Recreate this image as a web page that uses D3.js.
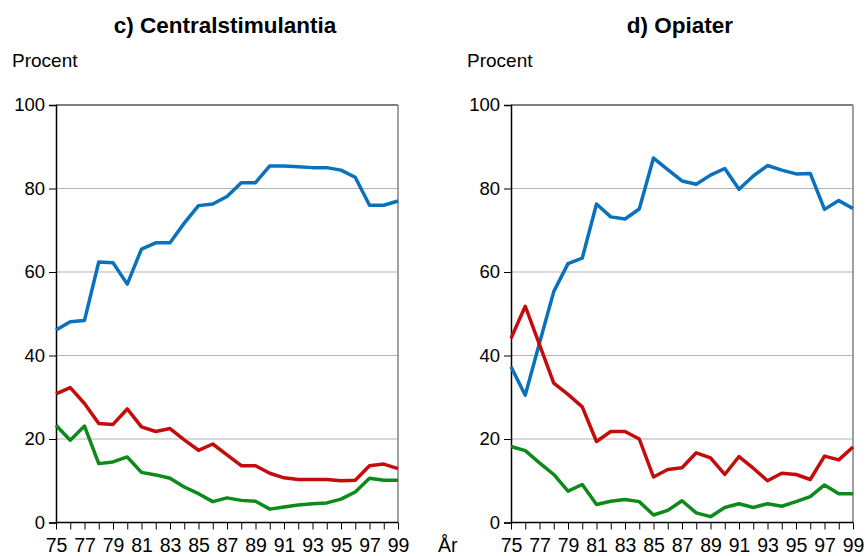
<!DOCTYPE html>
<html>
<head>
<meta charset="utf-8">
<script src="https://cdn.jsdelivr.net/npm/d3@7"></script>
<style>
  body { margin: 0; background: #fff; }
  svg { font-family: "Liberation Sans", Arial, sans-serif; }
</style>
</head>
<body>
<div id="chart"></div>
<script>
// years 1975-1999
var years = d3.range(1975, 2000);
var yTicks = [0, 20, 40, 60, 80, 100];

// c) Centralstimulantia
var cBlue  = [46.1, 48.1, 48.4, 62.4, 62.2, 57.1, 65.5, 67.0, 67.0, 71.7, 75.9, 76.3, 78.1, 81.4, 81.4, 85.4, 85.4, 85.2, 85.0, 85.0, 84.4, 82.7, 76.0, 76.0, 77.0];
var cRed   = [30.8, 32.3, 28.5, 23.7, 23.5, 27.2, 22.9, 21.8, 22.5, 19.8, 17.3, 18.8, 16.2, 13.6, 13.6, 11.8, 10.7, 10.3, 10.3, 10.3, 10.0, 10.1, 13.6, 14.0, 12.9];
var cGreen = [23.3, 19.7, 23.1, 14.1, 14.5, 15.7, 12.0, 11.4, 10.6, 8.5, 6.9, 5.0, 5.9, 5.3, 5.1, 3.2, 3.7, 4.2, 4.5, 4.7, 5.6, 7.3, 10.6, 10.1, 10.1];

// d) Opiater
var dBlue  = [37.3, 30.5, 43.0, 55.3, 62.0, 63.3, 76.3, 73.2, 72.7, 75.1, 87.3, 84.5, 81.8, 81.0, 83.2, 84.8, 79.8, 83.0, 85.5, 84.4, 83.5, 83.6, 75.0, 77.1, 75.2];
var dRed   = [44.1, 51.8, 42.6, 33.4, 30.7, 27.7, 19.4, 21.8, 21.8, 20.0, 10.9, 12.7, 13.1, 16.7, 15.5, 11.5, 15.8, 13.0, 10.0, 11.8, 11.5, 10.3, 15.9, 15.0, 18.1];
var dGreen = [18.2, 17.2, 14.3, 11.5, 7.5, 9.1, 4.3, 5.1, 5.5, 5.0, 1.8, 2.9, 5.2, 2.3, 1.4, 3.6, 4.5, 3.6, 4.5, 3.9, 5.0, 6.2, 9.0, 6.9, 6.9];

var colors = ["#0a72bd", "#c40c0c", "#0d8a1a"];

var svg = d3.select("#chart").append("svg")
  .attr("width", 866).attr("height", 556);

function drawPanel(left, title, series) {
  var top = 105, height = 417.5, width = 342;
  var x = d3.scaleLinear().domain([1975, 1999]).range([0, width]);
  var y = d3.scaleLinear().domain([0, 100]).range([height, 0]);

  var g = svg.append("g").attr("transform", "translate(" + left + "," + top + ")");

  // title and unit label
  svg.append("text")
    .attr("x", left + width / 2 - 2).attr("y", 33)
    .attr("text-anchor", "middle")
    .style("font-size", "22.5px").style("font-weight", "bold")
    .text(title);
  svg.append("text")
    .attr("x", left - 44).attr("y", 67)
    .style("font-size", "19px")
    .text("Procent");

  // gridlines
  g.append("g").selectAll("line")
    .data([20, 40, 60, 80])
    .enter().append("line")
    .attr("x1", 0).attr("x2", width)
    .attr("y1", function(d) { return y(d); })
    .attr("y2", function(d) { return y(d); })
    .attr("stroke", "#b4b4b4").attr("stroke-width", 1.2);

  // frame: black top, grey right
  g.append("line").attr("x1", 0).attr("x2", width).attr("y1", 0).attr("y2", 0)
    .attr("stroke", "#000").attr("stroke-width", 1.2);
  g.append("line").attr("x1", width).attr("x2", width).attr("y1", 0).attr("y2", height)
    .attr("stroke", "#808080").attr("stroke-width", 1.5);

  // y axis
  var yAxis = d3.axisLeft(y).tickValues(yTicks).tickSize(7).tickPadding(4);
  var yG = g.append("g").call(yAxis);
  yG.select(".domain").attr("stroke", "#000").attr("stroke-width", 1.5);
  yG.selectAll("text").style("font-size", "18.5px").attr("fill", "#000").attr("font-family", null);

  // lines
  var line = d3.line()
    .x(function(d, i) { return x(years[i]); })
    .y(function(d) { return y(d); });
  series.forEach(function(s, i) {
    g.append("path")
      .datum(s)
      .attr("fill", "none")
      .attr("stroke", colors[i])
      .attr("stroke-width", 3.5)
      .attr("stroke-linejoin", "round")
      .attr("d", line);
  });

  // x axis
  var xAxis = d3.axisBottom(x).tickValues(years).tickSize(7).tickPadding(9)
    .tickFormat(function(d) { return d % 2 === 1 ? String(d).slice(2) : ""; });
  var xG = g.append("g").attr("transform", "translate(0," + height + ")").call(xAxis);
  xG.select(".domain").attr("stroke", "#000").attr("stroke-width", 1.5)
    .attr("d", "M0,0H" + width);
  xG.selectAll("text").style("font-size", "19.5px").attr("fill", "#000").attr("font-family", null);
}

drawPanel(56, "c) Centralstimulantia", [cBlue, cRed, cGreen]);
drawPanel(511, "d) Opiater", [dBlue, dRed, dGreen]);

svg.append("text")
  .attr("x", 438).attr("y", 552)
  .style("font-size", "19.5px")
  .text("År");
</script>
</body>
</html>
